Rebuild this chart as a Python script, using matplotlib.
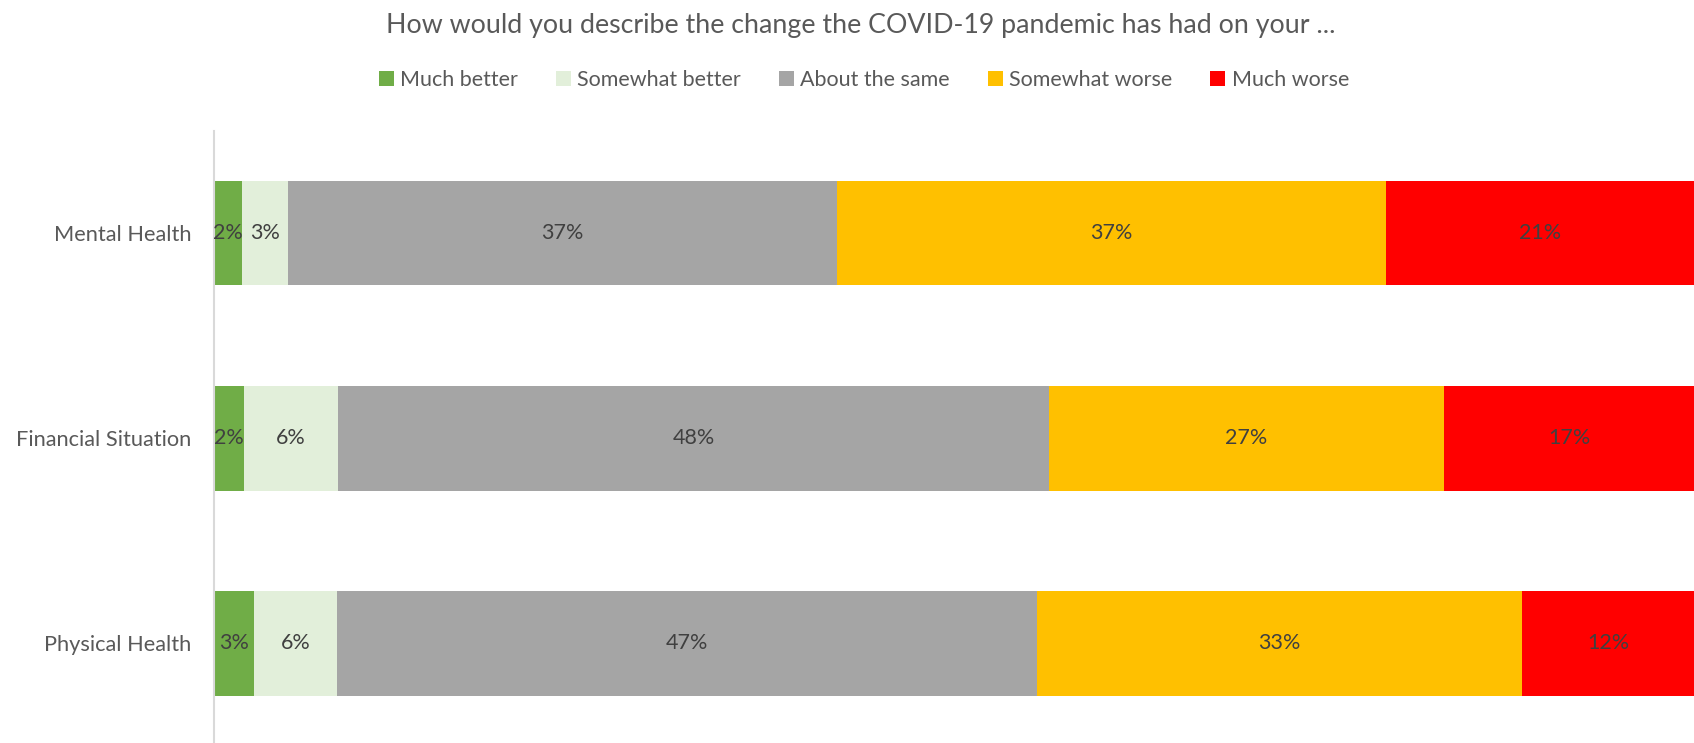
import matplotlib
matplotlib.use("Agg")
import matplotlib.pyplot as plt

# Survey responses (percent of respondents)
categories = ["Mental Health", "Financial Situation", "Physical Health"]
responses = ["Much better", "Somewhat better", "About the same", "Somewhat worse", "Much worse"]
much_better = [1.9, 2.0, 2.7]
somewhat_better = [3.1, 6.4, 5.6]
about_same = [37.1, 48.0, 47.3]
somewhat_worse = [37.1, 26.7, 32.8]
much_worse = [20.8, 16.9, 11.6]
colors = ["#70AD47", "#E2EFDA", "#A5A5A5", "#FFC000", "#FF0000"]

series = [much_better, somewhat_better, about_same, somewhat_worse, much_worse]

plt.rcParams["font.family"] = ["Lato", "DejaVu Sans"]
text_gray = "#595959"
label_gray = "#404040"

fig = plt.figure(figsize=(16.94, 7.43), dpi=100)
ax = fig.add_axes([214 / 1694, -3 / 743, 1 - 214 / 1694, 1 - 130.5 / 743 + 3 / 743])

ypos = list(range(len(categories)))
left = [0.0] * len(categories)
for name, vals, col in zip(responses, series, colors):
    ax.barh(ypos, vals, left=left, height=0.51, color=col, label=name,
            edgecolor="none")
    for i, v in enumerate(vals):
        ax.text(left[i] + v / 2, ypos[i], f"{v:.0f}%", ha="center", va="center",
                fontsize=15.5, color=label_gray)
    left = [l + v for l, v in zip(left, vals)]

ax.set_xlim(0, 100)
ax.set_ylim(len(categories) - 0.5, -0.5)
ax.set_yticks(ypos)
ax.set_yticklabels(categories, fontsize=15.7, color=text_gray)
ax.tick_params(axis="y", length=0, pad=16.5)
ax.set_xticks([])
for s in ["top", "right", "bottom"]:
    ax.spines[s].set_visible(False)
ax.spines["left"].set_color("#D9D9D9")
ax.spines["left"].set_linewidth(1.5)

fig.text(0.508, 1 - 26 / 743, "How would you describe the change the COVID-19 pandemic has had on your ...",
         ha="center", va="center", fontsize=19.3, color=text_gray)

leg = fig.legend(loc="center", bbox_to_anchor=(0.510, 1 - 80 / 743), ncol=5, frameon=False,
                 fontsize=15.5, handlelength=0.7, handleheight=0.7, handletextpad=0.3,
                 columnspacing=1.75)
for t in leg.get_texts():
    t.set_color(text_gray)

fig.savefig("out.png", dpi=100)
